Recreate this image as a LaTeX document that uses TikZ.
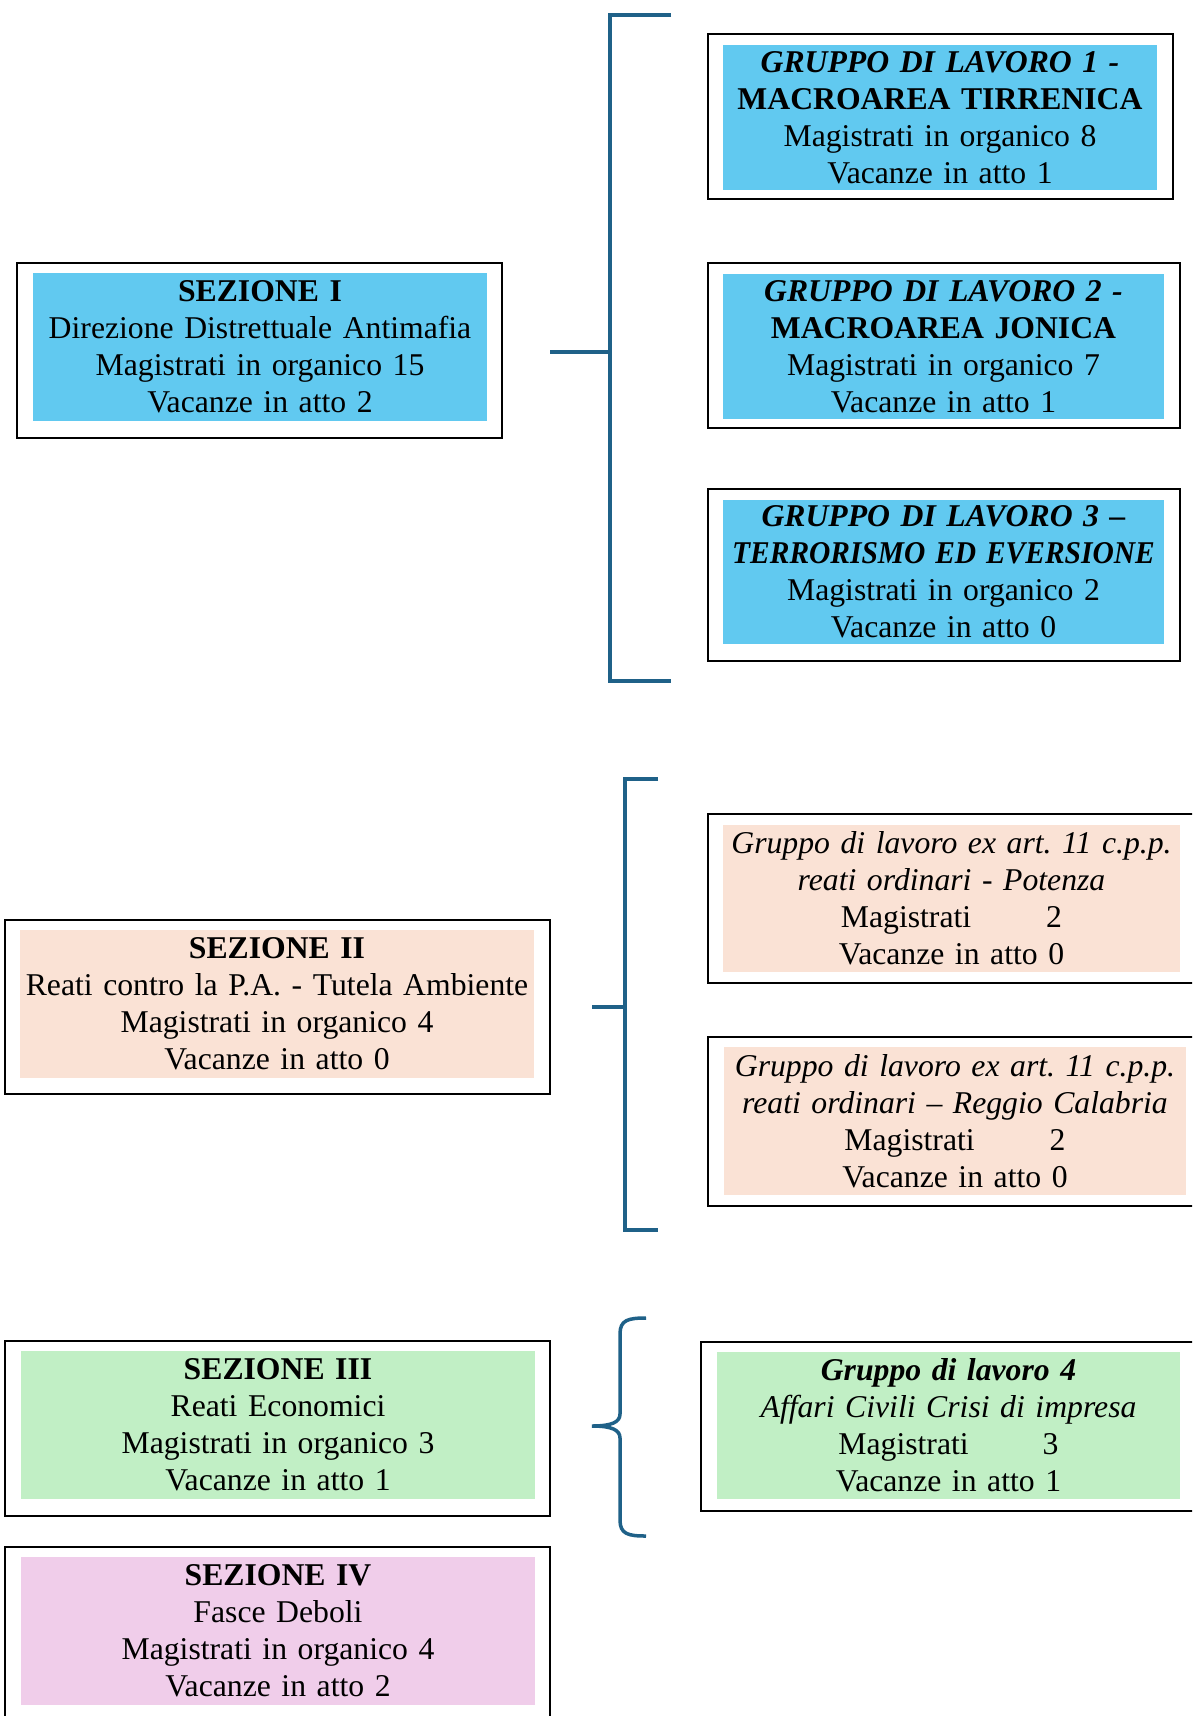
\documentclass[tikz,border=0pt]{standalone}
\usepackage{fontspec}
\setmainfont{Liberation Serif}
\frenchspacing
\definecolor{cblue}{HTML}{61C9F0}
\definecolor{cpeach}{HTML}{FAE2D5}
\definecolor{cgreen}{HTML}{C1EFC5}
\definecolor{cpink}{HTML}{F0CDEA}
\definecolor{brkcol}{HTML}{1F6188}
\begin{document}
\begin{tikzpicture}[x=1pt,y=-1pt,
  frame/.style={draw=black, line width=1.5pt, inner sep=0pt, rectangle},
  card/.style={inner sep=0pt, align=center, font=\fontsize{31.7}{37}\selectfont\frenchspacing},
  brk/.style={draw=brkcol, line width=4pt, line join=miter}]
\useasboundingbox (0,0) rectangle (1192,1716);
\clip (0,0) rectangle (1192,1716);
\fill[white] (0,0) rectangle (1192,1716);

% outer frames
\node[frame, minimum width=465pt, minimum height=165pt] (fg1) at (940.5,116.5) {};
\node[frame, minimum width=485pt, minimum height=175pt] (fs1) at (259.5,350.5) {};
\node[frame, minimum width=472pt, minimum height=165pt] (fg2) at (944,345.5) {};
\node[frame, minimum width=472pt, minimum height=172pt] (fg3) at (944,575) {};
\node[frame, minimum width=492pt, minimum height=169pt] (fpo) at (954,898.5) {};
\node[frame, minimum width=492pt, minimum height=169pt] (frc) at (954,1121.5) {};
\node[frame, minimum width=545pt, minimum height=174pt] (fs2) at (277.5,1007) {};
\node[frame, minimum width=545pt, minimum height=175pt] (fs3) at (277.5,1428.5) {};
\node[frame, minimum width=545pt, minimum height=183pt] (fs4) at (277.5,1638.5) {};
\node[frame, minimum width=499pt, minimum height=169pt] (fg4) at (950.5,1426.5) {};

% filled cards
\node[card, fill=cblue, text width=434pt, minimum height=145pt] (g1) at (940,117.5)
  {\textbf{\textit{GRUPPO DI LAVORO 1 -}}\\\textbf{MACROAREA TIRRENICA}\\Magistrati in organico 8\\Vacanze in atto 1};
\node[card, fill=cblue, text width=454pt, minimum height=148pt] (s1) at (260,347)
  {\textbf{SEZIONE I}\\Direzione Distrettuale Antimafia\\Magistrati in organico 15\\Vacanze in atto 2};
\node[card, fill=cblue, text width=441pt, minimum height=145pt] (g2) at (943.5,346.5)
  {\textbf{\textit{GRUPPO DI LAVORO 2 -}}\\\textbf{MACROAREA JONICA}\\Magistrati in organico 7\\Vacanze in atto 1};
\node[card, fill=cblue, text width=441pt, minimum height=144pt] (g3) at (943.5,572)
  {\textbf{\textit{GRUPPO DI LAVORO 3 –}}\\\scalebox{0.93}[1]{\textbf{\textit{TERRORISMO ED EVERSIONE}}}\\Magistrati in organico 2\\Vacanze in atto 0};
\node[card, fill=cpeach, text width=457pt, minimum height=147pt] (po) at (951.5,898.5)
  {\textit{Gruppo di lavoro ex art. 11 c.p.p.}\\\textit{reati ordinari - Potenza}\\Magistrati\hspace{75pt}2\\Vacanze in atto 0};
\node[card, fill=cpeach, text width=462pt, minimum height=148pt] (rc) at (955,1121)
  {\textit{Gruppo di lavoro ex art. 11 c.p.p.}\\\textit{reati ordinari – Reggio Calabria}\\Magistrati\hspace{75pt}2\\Vacanze in atto 0};
\node[card, fill=cpeach, text width=514pt, minimum height=148pt] (s2) at (277,1004)
  {\textbf{SEZIONE II}\\Reati contro la P.A. - Tutela Ambiente\\Magistrati in organico 4\\Vacanze in atto 0};
\node[card, fill=cgreen, text width=514pt, minimum height=148pt] (s3) at (278,1425)
  {\textbf{SEZIONE III}\\Reati Economici\\Magistrati in organico 3\\Vacanze in atto 1};
\node[card, fill=cpink, text width=514pt, minimum height=148pt] (s4) at (278,1631)
  {\textbf{SEZIONE IV}\\Fasce Deboli\\Magistrati in organico 4\\Vacanze in atto 2};
\node[card, fill=cgreen, text width=463pt, minimum height=147pt] (g4) at (948.5,1425.5)
  {\textbf{\textit{Gruppo di lavoro 4}}\\\textit{Affari Civili Crisi di impresa}\\Magistrati\hspace{74pt}3\\Vacanze in atto 1};

% bracket 1
\coordinate (b1a) at (671,15);
\coordinate (b1b) at (610,15);
\coordinate (b1c) at (610,681);
\coordinate (b1d) at (671,681);
\coordinate (b1m) at (610,352);
\coordinate (b1s) at (550,352);
\draw[brk] (b1a) -- (b1b) -- (b1c) -- (b1d);
\draw[brk] (b1s) -- (b1m);

% bracket 2
\coordinate (b2a) at (658,779);
\coordinate (b2b) at (625,779);
\coordinate (b2c) at (625,1230);
\coordinate (b2d) at (658,1230);
\coordinate (b2m) at (625,1007);
\coordinate (b2s) at (592,1007);
\draw[brk] (b2a) -- (b2b) -- (b2c) -- (b2d);
\draw[brk] (b2s) -- (b2m);

% curly brace
\coordinate (c1) at (646,1318);
\coordinate (c2) at (620,1334);
\coordinate (c3) at (620,1414);
\coordinate (ctip) at (592,1426);
\coordinate (c4) at (620,1438);
\coordinate (c5) at (620,1520);
\coordinate (c6) at (646,1536);
\draw[brk, line width=3.5pt] (c1) .. controls (628,1318) and (620,1320) .. (c2) -- (c3)
  .. controls (620,1422) and (612,1426) .. (ctip)
  .. controls (612,1426) and (620,1430) .. (c4) -- (c5)
  .. controls (620,1534) and (628,1536) .. (c6);
\end{tikzpicture}
\end{document}
